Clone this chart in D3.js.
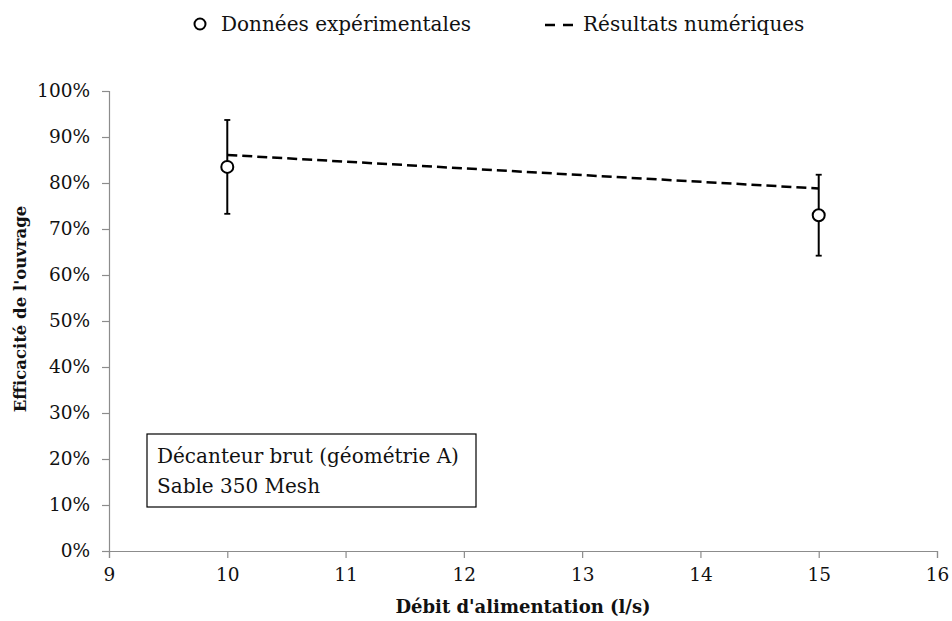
<!DOCTYPE html>
<html>
<head>
<meta charset="utf-8">
<script src="https://cdn.jsdelivr.net/npm/d3@7"></script>
<style>
  body { margin: 0; background: #fff; }
  text { font-family: "DejaVu Serif", "Liberation Serif", serif; fill: #111; }
</style>
</head>
<body>
<div id="chart"></div>
<script>
// experimental points (debit l/s, efficacite, erreur)
var expDebit = [10, 15];
var expEff = [0.835, 0.73];
var expErr = [0.102, 0.088];

// numerical results
var numDebit = [10, 15];
var numEff = [0.861, 0.788];

var xTicks = [9, 10, 11, 12, 13, 14, 15, 16];
var yTicks = [0, 0.1, 0.2, 0.3, 0.4, 0.5, 0.6, 0.7, 0.8, 0.9, 1];

var boxLines = ["Décanteur brut (géométrie A)", "Sable 350 Mesh"];

var W = 952, H = 621;
var margin = {top: 91, right: 15, bottom: 70, left: 109};
var width = W - margin.left - margin.right;
var height = H - margin.top - margin.bottom;

var svg = d3.select("#chart").append("svg")
    .attr("width", W)
    .attr("height", H);

var g = svg.append("g")
    .attr("transform", "translate(" + margin.left + "," + margin.top + ")");

var x = d3.scaleLinear().domain([9, 16]).range([0, width]);
var y = d3.scaleLinear().domain([0, 1]).range([height, 0]);

// axes
var xAxis = g.append("g")
    .attr("transform", "translate(0," + height + ")")
    .call(d3.axisBottom(x).tickValues(xTicks).tickSize(7).tickPadding(10).tickFormat(d3.format("d")));

var yAxis = g.append("g")
    .call(d3.axisLeft(y).tickValues(yTicks).tickSize(7).tickPadding(12).tickFormat(d3.format(".0%")));

[xAxis, yAxis].forEach(function(a) {
    a.select(".domain").attr("stroke", "#8c8c8c").attr("stroke-width", 1.2);
    a.selectAll(".tick line").attr("stroke", "#8c8c8c").attr("stroke-width", 1.2);
    a.selectAll(".tick text")
        .style("font-family", "'DejaVu Serif', serif")
        .style("font-size", "18.5px")
        .attr("fill", "#111");
});

// numerical dashed line
var numData = numDebit.map(function(d, i) { return {x: d, y: numEff[i]}; });
g.append("path")
    .datum(numData)
    .attr("fill", "none")
    .attr("stroke", "#000")
    .attr("stroke-width", 2.5)
    .attr("stroke-dasharray", "10,5")
    .attr("d", d3.line().x(function(d) { return x(d.x); }).y(function(d) { return y(d.y); }));

// experimental error bars + circles
var expData = expDebit.map(function(d, i) { return {x: d, y: expEff[i], e: expErr[i]}; });

var pts = g.selectAll(".pt")
    .data(expData)
    .enter().append("g")
    .attr("class", "pt");

pts.append("line")
    .attr("x1", function(d) { return x(d.x); })
    .attr("x2", function(d) { return x(d.x); })
    .attr("y1", function(d) { return y(d.y + d.e); })
    .attr("y2", function(d) { return y(d.y - d.e); })
    .attr("stroke", "#000").attr("stroke-width", 2);

pts.selectAll(".cap")
    .data(function(d) { return [d.y + d.e, d.y - d.e].map(function(v) { return {x: d.x, v: v}; }); })
    .enter().append("line")
    .attr("x1", function(d) { return x(d.x) - 3; })
    .attr("x2", function(d) { return x(d.x) + 3; })
    .attr("y1", function(d) { return y(d.v); })
    .attr("y2", function(d) { return y(d.v); })
    .attr("stroke", "#000").attr("stroke-width", 1.8);

pts.append("circle")
    .attr("cx", function(d) { return x(d.x); })
    .attr("cy", function(d) { return y(d.y); })
    .attr("r", 6)
    .attr("fill", "#fff")
    .attr("stroke", "#000")
    .attr("stroke-width", 2);

// annotation box
var box = svg.append("g").attr("transform", "translate(147,434)");
box.append("rect")
    .attr("width", 329).attr("height", 73)
    .attr("fill", "#fff").attr("stroke", "#000").attr("stroke-width", 1.2);
box.selectAll("text")
    .data(boxLines)
    .enter().append("text")
    .attr("x", 10)
    .attr("y", function(d, i) { return 29 + i * 30; })
    .style("font-size", "20px")
    .text(function(d) { return d; });

// axis titles
svg.append("text")
    .attr("x", margin.left + width / 2)
    .attr("y", 613)
    .attr("text-anchor", "middle")
    .style("font-size", "18px")
    .style("font-weight", "bold")
    .text("Débit d'alimentation (l/s)");

svg.append("text")
    .attr("transform", "translate(26,309) rotate(-90)")
    .attr("text-anchor", "middle")
    .style("font-size", "16.5px")
    .style("font-weight", "bold")
    .text("Efficacité de l'ouvrage");

// legend
var leg = svg.append("g").attr("transform", "translate(0,24)");
leg.append("circle")
    .attr("cx", 200).attr("cy", 0).attr("r", 5.5)
    .attr("fill", "#fff").attr("stroke", "#000").attr("stroke-width", 2);
leg.append("text")
    .attr("x", 221).attr("y", 7)
    .style("font-size", "20px")
    .text("Données expérimentales");
leg.append("line")
    .attr("x1", 545).attr("x2", 573).attr("y1", 1).attr("y2", 1)
    .attr("stroke", "#000").attr("stroke-width", 2.5)
    .attr("stroke-dasharray", "10,8");
leg.append("text")
    .attr("x", 583).attr("y", 7)
    .style("font-size", "20px")
    .text("Résultats numériques");
</script>
</body>
</html>
